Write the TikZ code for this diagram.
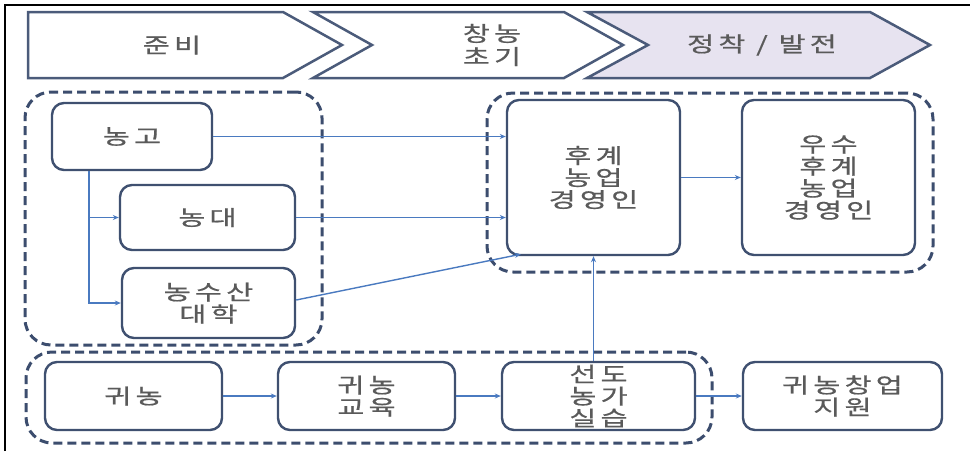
\documentclass[tikz,border=0pt]{standalone}
\usepackage{fontspec}
\usetikzlibrary{arrows.meta,calc}
\newfontfamily\kr{Noto Sans CJK KR}[FakeStretch=1.4,LetterSpace=20,FakeBold=0.6]
\definecolor{boxc}{HTML}{3F5070}
\definecolor{grpc}{HTML}{3C4D6E}
\definecolor{arrc}{HTML}{4A7AC0}
\definecolor{txtc}{HTML}{5A5A5A}
\definecolor{lav}{HTML}{E7E3F0}
\definecolor{chevc}{HTML}{4B5B7A}
\tikzset{
  stagebox/.style={rounded corners=12pt, draw=boxc, line width=2.4pt, fill=white,
    text=txtc, font=\kr\fontsize{21}{22}\selectfont, align=center, inner sep=0pt},
  grpbox/.style={rounded corners=26pt, draw=grpc, line width=3pt,
    dash pattern=on 9pt off 5pt, inner sep=0pt},
  chev/.style={draw=chevc, line width=2.5pt, line join=miter},
  chevtext/.style={text=txtc, font=\kr\fontsize{21}{23}\selectfont, align=center, inner sep=0pt},
  arr/.style={draw=arrc, line width=1.4pt, -{Stealth[length=6pt,width=5pt]}},
}
\begin{document}
\begin{tikzpicture}[x=1pt,y=-1pt]
\useasboundingbox (0,0) rectangle (970,451);
\fill[white] (0,0) rectangle (970,451);
% frame
\draw[line width=1.5pt, black] (5,451) -- (5,5) -- (970,5);
% chevrons
\draw[chev, fill=white] (28,12) -- (283,12) -- (342,45) -- (283,78) -- (28,78) -- cycle;
\draw[chev, fill=white] (313,12) -- (564,12) -- (623,45) -- (564,78) -- (313,78) -- (372,45) -- cycle;
\draw[chev, fill=lav] (587,12) -- (870,12) -- (930,45) -- (870,78) -- (587,78) -- (648,45) -- cycle;
\node[chevtext] (c1) at (172,45) {준비};
\node[chevtext] (c2) at (492,45) {창농\\초기};
\node[chevtext] (c3) at (762,45) {정착 / 발전};
% groups
\node[grpbox, minimum width=297pt, minimum height=253pt] (g1) at (173.5,218.5) {};
\node[grpbox, minimum width=446pt, minimum height=179pt] (g2) at (710,182.5) {};
\node[grpbox, minimum width=686pt, minimum height=91pt] (g3) at (369,397.5) {};
% boxes
\node[stagebox, minimum width=160pt, minimum height=67pt] (ng) at (132,136.5) {농고};
\node[stagebox, minimum width=175pt, minimum height=65pt] (nd) at (207.5,217.5) {농대};
\node[stagebox, minimum width=173pt, minimum height=70pt] (ns) at (208.5,303) {농수산\\대학};
\node[stagebox, minimum width=173pt, minimum height=155pt] (hu) at (593.5,177.5) {후계\\농업\\경영인};
\node[stagebox, minimum width=173pt, minimum height=155pt] (wu) at (828.5,177.5) {우수\\후계\\농업\\경영인};
\node[stagebox, minimum width=177pt, minimum height=68pt] (gn) at (133.5,396) {귀농};
\node[stagebox, minimum width=177pt, minimum height=68pt] (ge) at (366.5,396) {귀농\\교육};
\node[stagebox, minimum width=193pt, minimum height=68pt] (sd) at (598.5,396) {선도\\농가\\실습};
\node[stagebox, minimum width=199pt, minimum height=68pt] (cj) at (842.5,396) {귀농창업\\지원};
% connectors
\coordinate (br) at ($(ng.south west)+(38,0)$);
\draw[arr] (br) |- (nd.west);
\draw[arr] (br) |- (ns.west);
\draw[arr] (ng.east) -- (ng.east -| hu.west);
\draw[arr] (nd.east) -- (nd.east -| hu.west);
\coordinate (hucorner) at ($(hu.south west)+(15,-2)$);
\draw[arr] ($(ns.east)+(0,-3)$) -- (hucorner);
\draw[arr] (hu.east) -- (wu.west);
\draw[arr] (gn.east) -- (ge.west);
\draw[arr] (ge.east) -- (sd.west);
\draw[arr] (sd.east) -- (cj.west);
\draw[arr] (sd.north -| hu.south) -- (hu.south);
\end{tikzpicture}
\end{document}
